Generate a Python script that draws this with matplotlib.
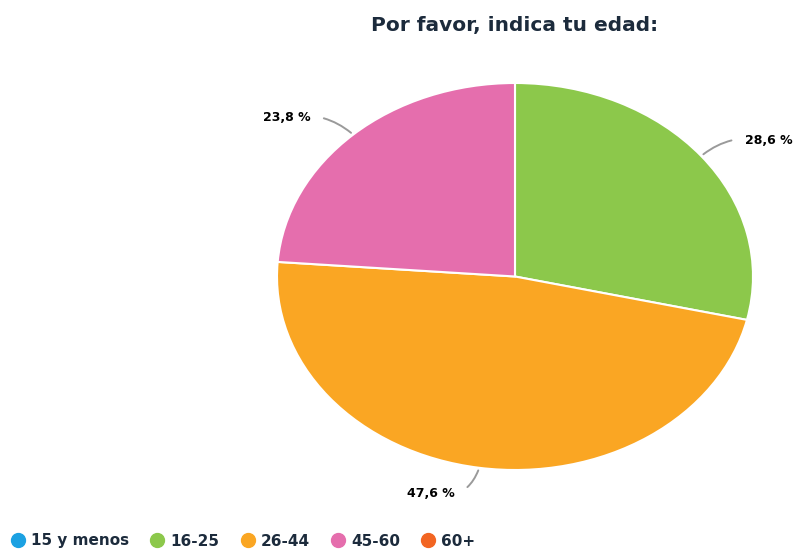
import matplotlib
matplotlib.use("Agg")
import matplotlib.pyplot as plt
from matplotlib.lines import Line2D
import numpy as np

categories = ["15 y menos", "16-25", "26-44", "45-60", "60+"]
values = [0.0, 28.6, 47.6, 23.8, 0.0]
colors = ["#1ba1e2", "#8cc84b", "#faa623", "#e56ead", "#f26522"]
title = "Por favor, indica tu edad:"
text_color = "#1c2b3c"

W, H = 800, 551
fig = plt.figure(figsize=(W / 100, H / 100), dpi=100)

# pie axes (stretched horizontally, aspect left free)
left, right, top, bottom = 277, 753, 83, 470
ax = fig.add_axes([left / W, 1 - bottom / H, (right - left) / W, (bottom - top) / H])
ax.axis("off")

shown = [(c, v, col) for c, v, col in zip(categories, values, colors) if v > 0]
wedges, _ = ax.pie([v for _, v, _ in shown], colors=[col for _, _, col in shown],
                   startangle=90, counterclock=False, radius=1,
                   wedgeprops=dict(edgecolor="white", linewidth=1.5))
ax.set_aspect("auto")
ax.set_xlim(-1, 1)
ax.set_ylim(-1, 1)

# value labels with curved leader lines
offsets = {"16-25": (44, 15, "left", 0.25),
           "26-44": (-24, -26, "right", 0.45),
           "45-60": (-43, 17, "right", -0.25)}
for (cat, val, _), w in zip(shown, wedges):
    mid = np.deg2rad((w.theta1 + w.theta2) / 2)
    x, y = np.cos(mid), np.sin(mid)
    dx, dy, ha, rad = offsets[cat]
    label = f"{val:.1f} %".replace(".", ",")
    ax.annotate(label, xy=(x, y), xycoords="data",
                xytext=(dx, dy), textcoords="offset pixels",
                ha=ha, va="center", fontsize=9, fontweight="bold", color="black",
                annotation_clip=False,
                arrowprops=dict(arrowstyle="-", color="#9a9a9a", lw=1.4,
                                shrinkA=8, shrinkB=2,
                                connectionstyle=f"arc3,rad={rad}"))

fig.text(515 / W, 1 - 25 / H, title, ha="center", va="center",
         fontsize=14.5, fontweight="bold", color=text_color)

handles = [Line2D([0], [0], marker="o", linestyle="", markersize=10,
                  markerfacecolor=c, markeredgecolor=c) for c in colors]
fig.legend(handles, categories, loc="center left", bbox_to_anchor=(-0.006, 1 - 541 / H),
           ncol=5, frameon=False, handletextpad=0.25, columnspacing=1.25,
           handlelength=1.2, prop=dict(size=11, weight="bold"), labelcolor=text_color)

fig.savefig("out.png", dpi=100)
